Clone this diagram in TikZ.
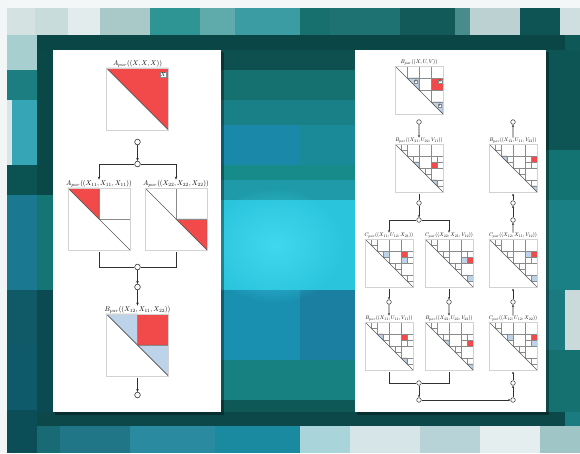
\documentclass[tikz,border=0pt]{standalone}
\usetikzlibrary{arrows.meta,fadings}

\definecolor{cellred}{HTML}{F24A4A}
\definecolor{cellblue}{HTML}{BDD3EA}
\definecolor{gridgray}{HTML}{8A8A8A}
\definecolor{diaggray}{HTML}{5A5A5A}
\definecolor{framegray}{HTML}{D2D2D2}
\definecolor{wire}{HTML}{303030}
\definecolor{glowc}{HTML}{40D8EE}

\tikzfading[name=glowfade, inner color=transparent!0, outer color=transparent!100]

% one block of the mosaic backdrop
\newcommand\blk[5]{\definecolor{blkc}{HTML}{#5}\fill[blkc] (#1,#2) rectangle (#3,#4);}
% upper triangle of diagonal cell #1, cell size #2
\newcommand\tri[3]{\filldraw[fill=#3,draw=diaggray,line width=0.35pt] ({#1*#2},{#1*#2}) -- ({(#1+1)*#2},{#1*#2}) -- ({(#1+1)*#2},{(#1+1)*#2}) -- cycle;}
% full cell: row #1, column #2, cell size #3
\newcommand\sq[4]{\filldraw[fill=#4,draw=diaggray,line width=0.35pt] ({#2*#3},{#1*#3}) rectangle ({(#2+1)*#3},{(#1+1)*#3});}
% staircase grid above the diagonal: #1 inner lines, cell size #2
\newcommand\stair[2]{\foreach \k in {1,...,#1}{\draw[gridline] ({\k*#2},0) -- ({\k*#2},{\k*#2}) -- ({(#1+1)*#2},{\k*#2});}}
% finer split of the diagonal blocks and of the X block (8x8 level)
\newcommand\halfsteps{%
  \foreach \k in {0,...,3}{\draw[gridline] ({(2*\k+1)*6},{2*\k*6}) -- ({(2*\k+1)*6},{(2*\k+1)*6}) -- ({(2*\k+2)*6},{(2*\k+1)*6});}
  \draw[gridline] (42,12) -- (42,24) (36,18) -- (48,18);}
% diagonal and outline of a matrix of side #1
\newcommand\matend[1]{\draw[diagline] (0,0) -- (#1,#1); \draw[framegray,line width=0.4pt] (0,0) rectangle (#1,#1);}

\tikzset{
  matbox/.style={inner sep=0pt, outer sep=0pt, minimum size=#1, fill=white},
  port/.style={circle, draw=wire, fill=white, line width=0.6pt, minimum size=5.6pt, inner sep=0pt},
  sport/.style={circle, draw=wire, fill=white, line width=0.5pt, minimum size=4.6pt, inner sep=0pt},
  wireline/.style={draw=wire, line width=0.7pt},
  arr/.style={wireline, -{Stealth[length=3pt,width=2.6pt]}},
  sarr/.style={draw=wire, line width=0.55pt, -{Stealth[length=2.4pt,width=2.1pt]}},
  swire/.style={draw=wire, line width=0.55pt},
  ttl/.style={inner sep=0.5pt, scale=#1},
  gridline/.style={gridgray, line width=0.38pt},
  diagline/.style={diaggray, line width=0.6pt},
  lbl/.style={draw=gridgray, fill=white, inner sep=0.6pt, line width=0.25pt, scale=#1},
}

\begin{document}
\begin{tikzpicture}[x=1pt,y=-1pt]
\useasboundingbox (0,0) rectangle (580,453);

% ---------- mosaic backdrop ----------
\blk{0}{0}{580}{453}{0E5050}
% top row of tiles
\blk{7}{0}{35}{35}{D5E2E2}
\blk{35}{0}{68}{35}{C9DCDC}
\blk{68}{8}{100}{35}{E2ECEC}
\blk{100}{8}{150}{35}{A9C9C9}
\blk{150}{8}{200}{35}{2F9494}
\blk{200}{8}{235}{35}{5FAAAA}
\blk{235}{8}{300}{35}{3C9CA4}
\blk{300}{8}{330}{35}{17706E}
\blk{330}{8}{400}{35}{1F7272}
\blk{400}{8}{455}{35}{125A5A}
\blk{455}{8}{470}{35}{4A8C8C}
\blk{470}{8}{520}{35}{BCD2D2}
\blk{520}{8}{560}{35}{0F5454}
\blk{560}{8}{580}{35}{CFDEDE}
\blk{0}{0}{580}{8}{F4F7F7}
\blk{0}{0}{7}{453}{F2F6F6}
% left strip
\blk{7}{35}{37}{70}{A8CFCF}
\blk{7}{70}{37}{100}{1C7E80}
\blk{7}{100}{12}{165}{D8E6E6}
\blk{12}{100}{37}{165}{36A6B6}
\blk{7}{165}{37}{195}{0B5252}
\blk{7}{195}{37}{290}{1A7890}
\blk{7}{290}{37}{345}{0F5A66}
\blk{7}{345}{37}{410}{0E5A6A}
\blk{7}{410}{37}{453}{0C4E58}
\blk{37}{35}{53}{195}{0A4848}
\blk{37}{195}{53}{290}{157575}
\blk{37}{290}{53}{425}{0B4A50}
% dark frame
\blk{37}{35}{565}{50}{0B4646}
\blk{37}{412}{565}{426}{0C484A}
% centre strip
\blk{221}{50}{355}{70}{0E5050}
\blk{221}{70}{355}{100}{157070}
\blk{221}{100}{355}{125}{1A8088}
\blk{221}{125}{300}{165}{1A88A8}
\blk{300}{125}{355}{165}{1A8A98}
\blk{221}{165}{355}{180}{178A8A}
\blk{221}{180}{355}{200}{1E9AA8}
\blk{221}{200}{355}{290}{2AC4DC}
\blk{221}{290}{300}{360}{1A90B0}
\blk{300}{290}{355}{360}{1A7FA0}
\blk{221}{360}{355}{400}{178080}
\blk{221}{400}{355}{412}{0E5858}
\fill[glowc, path fading=glowfade] (275,245) ellipse (72 and 58);
% right strip
\blk{546}{50}{580}{150}{0D5555}
\blk{546}{150}{580}{200}{137272}
\blk{546}{200}{580}{290}{1B8086}
\blk{546}{290}{565}{350}{1A7A80}
\blk{565}{290}{580}{350}{CADADA}
\blk{546}{350}{580}{412}{157070}
\blk{565}{35}{580}{50}{0F5858}
\blk{565}{412}{580}{426}{1A7C80}
% bottom row of tiles
\blk{37}{426}{60}{453}{186A75}
\blk{60}{426}{130}{453}{207686}
\blk{130}{426}{215}{453}{2A8AA0}
\blk{215}{426}{300}{453}{1A8AA0}
\blk{300}{426}{350}{453}{A8D4DA}
\blk{350}{426}{420}{453}{D5E5E8}
\blk{420}{426}{480}{453}{B7D3D7}
\blk{480}{426}{540}{453}{E5EEEE}
\blk{540}{426}{580}{453}{9FC5C7}

% ---------- panels ----------
\fill[black, opacity=0.35] (55,52) rectangle (224,415);
\fill[black, opacity=0.35] (357,52) rectangle (549,415);
\fill[white] (53,50) rectangle (221,412);
\fill[white] (355,50) rectangle (546,412);

% ================= left panel =================
\node[matbox=62pt] (mL0) at (137.5,99) {};
\begin{scope}[shift={(mL0.north west)}]
  \tri{0}{62}{cellred}
  \matend{62}
  \node[lbl=0.55] at (56.5,6.5) {$X$};
\end{scope}
\node[ttl=0.69, anchor=south] (tL0) at ([yshift=0.3pt]mL0.north) {$A_{par}((X,X,X))$};

\node[matbox=62pt] (mL1a) at (99,219) {};
\begin{scope}[shift={(mL1a.north west)}]
  \tri{0}{31}{cellred}
  \stair{1}{31}
  \matend{62}
\end{scope}
\node[ttl=0.69, anchor=south] (tL1a) at ([yshift=0.3pt]mL1a.north) {$A_{par}((X_{11},X_{11},X_{11}))$};

\node[matbox=62pt] (mL1b) at (176,219) {};
\begin{scope}[shift={(mL1b.north west)}]
  \tri{1}{31}{cellred}
  \stair{1}{31}
  \matend{62}
\end{scope}
\node[ttl=0.69, anchor=south] (tL1b) at ([yshift=0.3pt]mL1b.north) {$A_{par}((X_{22},X_{22},X_{22}))$};

\node[matbox=62pt] (mL2) at (137.5,345) {};
\begin{scope}[shift={(mL2.north west)}]
  \tri{0}{31}{cellblue}
  \sq{0}{1}{31}{cellred}
  \tri{1}{31}{cellblue}
  \stair{1}{31}
  \matend{62}
\end{scope}
\node[ttl=0.69, anchor=south] (tL2) at ([yshift=0.3pt]mL2.north) {$B_{par}((X_{12},X_{11},X_{22}))$};

\node[port] (c1) at (137.5,142) {};
\node[port] (j1) at (137.5,164) {};
\node[port] (j2) at (137.5,267) {};
\node[port] (c2) at (137.5,287) {};
\node[port] (c3) at (137.5,395) {};
\draw[arr] (c1) -- (j1);
\draw[arr] (j1) -| (tL1a);
\draw[arr] (j1) -| (tL1b);
\draw[wireline] ([yshift=-2pt]mL1a.south) |- (j2);
\draw[wireline] ([yshift=-2pt]mL1b.south) |- (j2);
\draw[arr] (j2) -- (c2);
\draw[arr] (c2) -- (tL2);
\draw[arr] ([yshift=-2pt]mL2.south) -- (c3);

% ================= right panel =================
% top: 4x4 blocks
\node[matbox=48pt] (mR0) at (419,90) {};
\begin{scope}[shift={(mR0.north west)}]
  \tri{1}{12}{cellblue}
  \sq{1}{3}{12}{cellred}
  \tri{3}{12}{cellblue}
  \stair{3}{12}
  \matend{48}
  \node[lbl=0.34] at (21.0,15.4) {$U$};
  \node[lbl=0.34] at (45.0,15.4) {$X$};
  \node[lbl=0.34] at (45.0,39.4) {$V$};
\end{scope}
\node[ttl=0.54, anchor=south] (tR0) at ([yshift=0.3pt]mR0.north) {$B_{par}((X,U,V))$};

% second row
\node[matbox=48pt] (mR1a) at (419,168) {};
\begin{scope}[shift={(mR1a.north west)}]
  \tri{3}{6}{cellblue} \sq{3}{6}{6}{cellred} \tri{6}{6}{cellblue}
  \stair{3}{12} \halfsteps \matend{48}
\end{scope}
\node[ttl=0.52, anchor=south] (tR1a) at ([yshift=0.3pt]mR1a.north) {$B_{par}((X_{21},U_{22},V_{11}))$};

\node[matbox=48pt] (mR1b) at (513,168) {};
\begin{scope}[shift={(mR1b.north west)}]
  \tri{2}{6}{cellblue} \sq{2}{7}{6}{cellred} \tri{7}{6}{cellblue}
  \stair{3}{12} \halfsteps \matend{48}
\end{scope}
\node[ttl=0.52, anchor=south] (tR1b) at ([yshift=0.3pt]mR1b.north) {$B_{par}((X_{12},U_{11},V_{22}))$};

% third row
\node[matbox=48pt] (mR2a) at (389,263) {};
\begin{scope}[shift={(mR2a.north west)}]
  \sq{2}{3}{6}{cellblue} \sq{2}{6}{6}{cellred} \sq{3}{6}{6}{cellblue}
  \stair{3}{12} \halfsteps \matend{48}
\end{scope}
\node[ttl=0.52, anchor=south] (tR2a) at ([yshift=0.3pt]mR2a.north) {$C_{par}((X_{11},U_{12},X_{21}))$};

\node[matbox=48pt] (mR2b) at (449,263) {};
\begin{scope}[shift={(mR2b.north west)}]
  \sq{3}{6}{6}{cellblue} \sq{3}{7}{6}{cellred} \sq{6}{7}{6}{cellblue}
  \stair{3}{12} \halfsteps \matend{48}
\end{scope}
\node[ttl=0.52, anchor=south] (tR2b) at ([yshift=0.3pt]mR2b.north) {$C_{par}((X_{22},X_{21},V_{12}))$};

\node[matbox=48pt] (mR2c) at (513,263) {};
\begin{scope}[shift={(mR2c.north west)}]
  \sq{2}{6}{6}{cellblue} \sq{2}{7}{6}{cellred} \sq{6}{7}{6}{cellblue}
  \stair{3}{12} \halfsteps \matend{48}
\end{scope}
\node[ttl=0.52, anchor=south] (tR2c) at ([yshift=0.3pt]mR2c.north) {$C_{par}((X_{12},X_{11},V_{12}))$};

% fourth row
\node[matbox=48pt] (mR3a) at (389,346) {};
\begin{scope}[shift={(mR3a.north west)}]
  \tri{2}{6}{cellblue} \sq{2}{6}{6}{cellred} \tri{6}{6}{cellblue}
  \stair{3}{12} \halfsteps \matend{48}
\end{scope}
\node[ttl=0.52, anchor=south] (tR3a) at ([yshift=0.3pt]mR3a.north) {$B_{par}((X_{11},U_{11},V_{11}))$};

\node[matbox=48pt] (mR3b) at (449,346) {};
\begin{scope}[shift={(mR3b.north west)}]
  \tri{3}{6}{cellblue} \sq{3}{7}{6}{cellred} \tri{7}{6}{cellblue}
  \stair{3}{12} \halfsteps \matend{48}
\end{scope}
\node[ttl=0.52, anchor=south] (tR3b) at ([yshift=0.3pt]mR3b.north) {$B_{par}((X_{22},U_{22},V_{22}))$};

\node[matbox=48pt] (mR3c) at (513,346) {};
\begin{scope}[shift={(mR3c.north west)}]
  \sq{2}{3}{6}{cellblue} \sq{2}{7}{6}{cellred} \sq{3}{7}{6}{cellblue}
  \stair{3}{12} \halfsteps \matend{48}
\end{scope}
\node[ttl=0.52, anchor=south] (tR3c) at ([yshift=0.3pt]mR3c.north) {$C_{par}((X_{12},U_{12},X_{22}))$};

% ports and wiring
\node[sport] (p0) at (419,122) {};
\node[sport] (q0) at (513,122) {};
\node[sport] (p1) at (419,203) {};
\node[sport] (p2) at (419,220) {};
\node[sport] (q1) at (513,203) {};
\node[sport] (q2) at (513,220) {};
\node[sport] (p3) at (389,302) {};
\node[sport] (p4) at (449,302) {};
\node[sport] (q3) at (513,302) {};
\node[sport] (p5) at (419,383) {};
\node[sport] (p6) at (419,400) {};
\node[sport] (q4) at (513,383) {};
\node[sport] (q5) at (513,400) {};

\draw[sarr] (p0) -- (tR1a);
\draw[sarr] (tR1b) -- (q0);
\draw[swire] ([yshift=-1.5pt]mR1a.south) -- (p1);
\draw[sarr] (p1) -- (p2);
\draw[sarr] (p2) -| (tR2a);
\draw[sarr] (p2) -| (tR2b);
\draw[sarr] (tR2c) -- (q2);
\draw[sarr] (q2) -- (q1);
\draw[sarr] (q1) -- ([yshift=-1.5pt]mR1b.south);
\draw[sarr] ([yshift=-1.5pt]mR2a.south) -- (p3);
\draw[sarr] (p3) -- (tR3a);
\draw[sarr] ([yshift=-1.5pt]mR2b.south) -- (p4);
\draw[sarr] (p4) -- (tR3b);
\draw[sarr] (tR3c) -- (q3);
\draw[sarr] (q3) -- ([yshift=-1.5pt]mR2c.south);
\draw[swire] ([yshift=-1.5pt]mR3a.south) |- (p5);
\draw[swire] ([yshift=-1.5pt]mR3b.south) |- (p5);
\draw[sarr] (p5) -- (p6);
\draw[sarr] (p6) -- (q5);
\draw[sarr] (q5) -- (q4);
\draw[sarr] (q4) -- ([yshift=-1.5pt]mR3c.south);
\end{tikzpicture}
\end{document}
